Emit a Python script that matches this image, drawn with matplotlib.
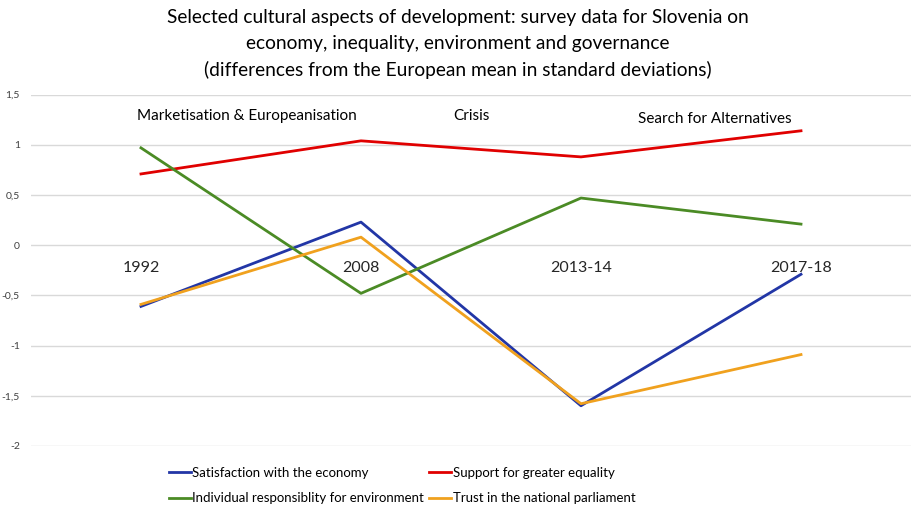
import matplotlib.pyplot as plt

plt.rcParams['font.family'] = ['Lato', 'DejaVu Sans']

periods = ["1992", "2008", "2013-14", "2017-18"]
economy = [-0.61, 0.23, -1.60, -0.29]
equality = [0.71, 1.04, 0.88, 1.14]
environment = [0.97, -0.48, 0.47, 0.21]
parliament = [-0.59, 0.08, -1.58, -1.09]
yticks = [1.5, 1, 0.5, 0, -0.5, -1, -1.5, -2]
phases = ["Marketisation & Europeanisation", "Crisis", "Search for Alternatives"]

fig = plt.figure(figsize=(9.11, 5.09), dpi=100)
ax = fig.add_axes([0.034, 0.124, 0.966, 0.69])

x = range(len(periods))
ax.plot(x, economy, color="#2236A6", lw=2.0, label="Satisfaction with the economy")
ax.plot(x, equality, color="#E00000", lw=2.0, label="Support for greater equality")
ax.plot(x, environment, color="#4B8B25", lw=2.0, label="Individual responsiblity for environment")
ax.plot(x, parliament, color="#F0A11E", lw=2.0, label="Trust in the national parliament")

ax.set_xlim(-0.5, 3.5)
ax.set_ylim(-2, 1.5)
ax.set_yticks(yticks)
ax.set_yticklabels([str(v).replace(".", ",") for v in yticks], fontsize=7.5, color="#404040")
ax.yaxis.grid(True, color="#d9d9d9", lw=1)
ax.set_axisbelow(True)
ax.tick_params(axis="y", length=0, pad=8)

# category labels sit just under the zero line
ax.set_xticks([])
for i, p in enumerate(periods):
    ax.text(i, -0.23, p, ha="center", va="center", fontsize=11.5, color="#262626")

for xp, yp, t in zip([0.48, 1.5, 2.61], [1.29, 1.29, 1.26], phases):
    ax.text(xp, yp, t, ha="center", va="center", fontsize=11, color="#000000")

for s in ax.spines.values():
    s.set_visible(False)

fig.suptitle("Selected cultural aspects of development: survey data for Slovenia on\n"
             "economy, inequality, environment and governance\n"
             "(differences from the European mean in standard deviations)",
             x=0.503, y=0.982, fontsize=13.8, linespacing=1.6)

h, l = ax.get_legend_handles_labels()
order = [0, 2, 1, 3]
fig.legend([h[i] for i in order], [l[i] for i in order], ncol=2, loc="lower left",
           bbox_to_anchor=(0.172, -0.014), frameon=False, fontsize=9.5,
           handlelength=1.7, handletextpad=0.1, columnspacing=0.35, labelspacing=1.0)

fig.savefig("out.png", dpi=100)
